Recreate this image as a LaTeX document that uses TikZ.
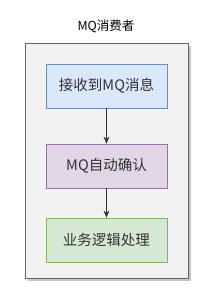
\documentclass[tikz,border=0pt]{standalone}
\usepackage{fontspec}
\setmainfont{Noto Sans CJK SC}
\usetikzlibrary{arrows.meta,shadows}
\definecolor{outerfill}{HTML}{F2F2F2}
\definecolor{outerdraw}{HTML}{666666}
\definecolor{bfill}{HTML}{DAE8FC}\definecolor{bdraw}{HTML}{6C8EBF}
\definecolor{pfill}{HTML}{E1D5E7}\definecolor{pdraw}{HTML}{9673A6}
\definecolor{gfill}{HTML}{D5E8D4}\definecolor{gdraw}{HTML}{82B366}
\definecolor{txt}{HTML}{333333}
\tikzset{
  stepbox/.style={draw, line width=0.8pt, minimum width=121pt, minimum height=44pt, inner sep=0pt, text=txt, font=\fontsize{14.5}{16}\selectfont},
  conn/.style={-{Stealth[length=7pt,width=6pt]}, line width=0.9pt, draw=black!80},
}
\begin{document}
\begin{tikzpicture}[x=1pt,y=-1pt]
\useasboundingbox (0,0) rectangle (210,306);
\node[font=\fontsize{12.5}{14}\selectfont, text=black] (title) at (106,26) {MQ消费者};
\node[draw=outerdraw, fill=outerfill, line width=1pt, minimum width=163pt, minimum height=235pt, inner sep=0pt,
  drop shadow={shadow xshift=2.5pt, shadow yshift=-2.5pt, fill=black!45, opacity=0.5}] (outer) at (106.5,160.5) {};
\node[stepbox, fill=bfill, draw=bdraw] (a) at (106.5,86) {接收到MQ消息};
\node[stepbox, fill=pfill, draw=pdraw] (b) at (106.5,166) {MQ自动确认};
\node[stepbox, fill=gfill, draw=gdraw] (c) at (106.5,240) {业务逻辑处理};
\draw[conn] (a) -- (b);
\draw[conn] (b) -- (c);
\end{tikzpicture}
\end{document}
